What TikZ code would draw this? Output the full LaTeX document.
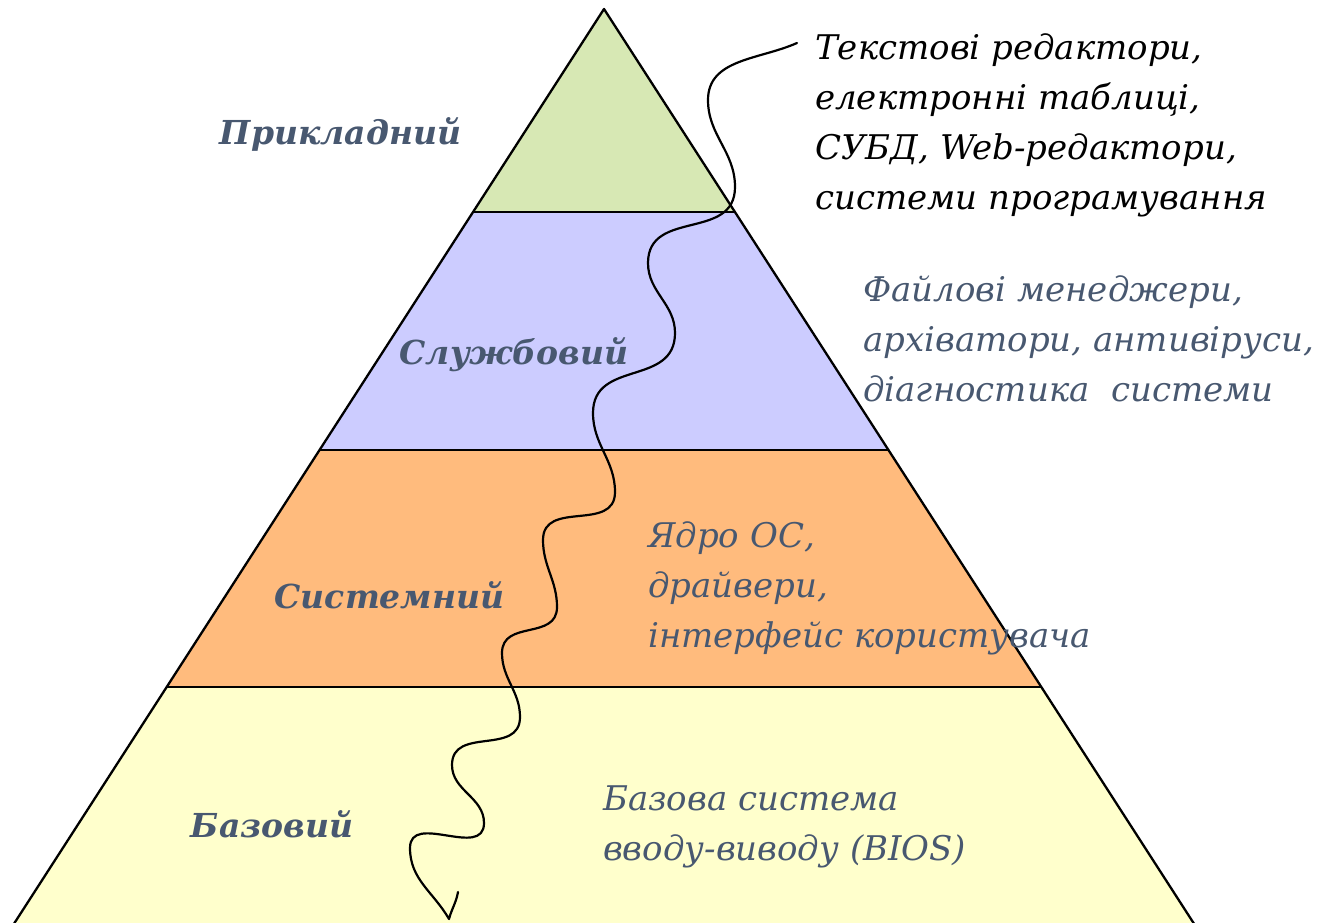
\documentclass[tikz,border=0pt]{standalone}
\usepackage{fontspec}
\setmainfont{DejaVu Serif}
\definecolor{lgreen}{RGB}{215,232,180}
\definecolor{lviolet}{RGB}{204,204,255}
\definecolor{lorange}{RGB}{255,187,125}
\definecolor{lyellow}{RGB}{255,255,204}
\definecolor{slate}{RGB}{72,88,112}
\tikzset{
  level/.style={font=\fontsize{33}{40}\selectfont\bfseries\itshape, text=slate, inner sep=0pt, anchor=base},
  desc/.style={font=\fontsize{34}{50}\selectfont\itshape, text=slate, inner sep=0pt, anchor=base west, align=left},
  edge/.style={line width=2.3pt, line join=round},
  wave/.style={line width=2.2pt, line cap=round, line join=round}
}
\begin{document}
\begin{tikzpicture}[x=1pt,y=1pt]
\useasboundingbox (0,0) rectangle (1324,922);
\clip (0,0) rectangle (1324,922);
% pyramid layers, apex at (604,913), side slope 0.645
\coordinate (apex) at (604,913);
\coordinate (l1) at (473.1,710); \coordinate (r1) at (734.9,710);
\coordinate (l2) at (319.6,472); \coordinate (r2) at (888.4,472);
\coordinate (l3) at (166.7,235); \coordinate (r3) at (1041.3,235);
\coordinate (l4) at (3.5,-18);   \coordinate (r4) at (1204.5,-18);
\fill[lgreen]  (apex) -- (l1) -- (r1) -- cycle;
\fill[lviolet] (l1) -- (r1) -- (r2) -- (l2) -- cycle;
\fill[lorange] (l2) -- (r2) -- (r3) -- (l3) -- cycle;
\fill[lyellow] (l3) -- (r3) -- (r4) -- (l4) -- cycle;
\draw[edge] (l4) -- (apex) -- (r4);
\draw[edge] (l1) -- (r1);
\draw[edge] (l2) -- (r2);
\draw[edge] (l3) -- (r3);
% level names
\node[level] (app) at (340.5,777) {Прикладний};
\node[level] (srv) at (514,557) {Службовий};
\node[level] (sys) at (389.5,314) {Системний};
\node[level] (bas) at (272,85) {Базовий};
% descriptions (anchored at the baseline of their last line)
\node[desc, text=black] (dapp) at (815,712) {Текстові редактори,\\електронні таблиці,\\СУБД, Web-редактори,\\системи програмування};
\node[desc] (dsrv) at (863,520) {Файлові менеджери,\\архіватори, антивіруси,\\діагностика\ \ системи};
\node[desc] (dsys) at (648,275) {Ядро ОС,\\драйвери,\\інтерфейс користувача};
\node[desc] (dbas) at (603,62) {Базова система\\вводу-виводу (BIOS)};
% wavy line
\coordinate (w0) at (797,879);
\coordinate (w1) at (708,822);
\coordinate (w2) at (735,735);
\coordinate (w3) at (648,659);
\coordinate (w4) at (675,589);
\coordinate (w5) at (593,509);
\coordinate (w6) at (615,430);
\coordinate (w7) at (543,382);
\coordinate (w8) at (557,315);
\coordinate (w9) at (502,269);
\coordinate (w10) at (520,205);
\coordinate (w11) at (452,157);
\coordinate (w12) at (484,99);
\coordinate (w13) at (410,74);
\coordinate (w14) at (449,3);
\coordinate (w15) at (458,30);
\draw[wave] (w0) to[out=204,in=90] (w1)
  to[out=-90,in=90] (w2)
  to[out=-90,in=90,looseness=1.2] (w3)
  to[out=-90,in=90] (w4)
  to[out=-90,in=90,looseness=1.2] (w5)
  to[out=-90,in=90] (w6)
  to[out=-90,in=90,looseness=1.2] (w7)
  to[out=-90,in=90] (w8)
  to[out=-90,in=90,looseness=1.2] (w9)
  to[out=-90,in=90] (w10)
  to[out=-90,in=90,looseness=1.2] (w11)
  to[out=-90,in=90] (w12)
  to[out=-90,in=90,looseness=1.2] (w13)
  to[out=-90,in=120] (w14)
  to[out=75,in=-100] (w15);
\end{tikzpicture}
\end{document}
